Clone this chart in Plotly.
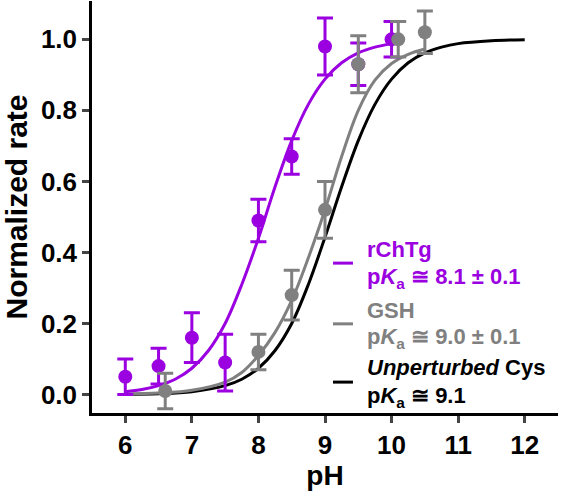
import plotly.graph_objects as go

# Data points
ph_rchtg = [6.0, 6.5, 7.0, 7.5, 8.0, 8.5, 9.0, 9.5, 10.0]
rate_rchtg = [0.05, 0.08, 0.16, 0.09, 0.49, 0.67, 0.98, 0.93, 1.00]
err_rchtg = [0.05, 0.05, 0.07, 0.08, 0.06, 0.05, 0.08, 0.06, 0.05]

ph_gsh = [6.6, 8.0, 8.5, 9.0, 9.5, 10.1, 10.5]
rate_gsh = [0.01, 0.12, 0.28, 0.52, 0.93, 1.00, 1.02]
err_gsh = [0.05, 0.05, 0.07, 0.08, 0.08, 0.05, 0.06]

# Fitted curves
curve_ph_rchtg = [6.0, 6.25, 6.5, 6.75, 7.0, 7.25, 7.5, 7.75, 8.0, 8.25, 8.5, 8.75, 9.0, 9.25, 9.5, 9.75, 10.0]
curve_rchtg = [0.008, 0.014, 0.025, 0.043, 0.074, 0.124, 0.20, 0.31, 0.44, 0.585, 0.715, 0.817, 0.888, 0.934, 0.962, 0.978, 0.988]

curve_ph_gsh = [6.0, 6.5, 7.0, 7.5, 7.75, 8.0, 8.25, 8.5, 8.75, 9.0, 9.25, 9.5, 9.75, 10.0, 10.25, 10.5]
curve_gsh = [0.001, 0.004, 0.012, 0.035, 0.062, 0.11, 0.175, 0.265, 0.385, 0.52, 0.67, 0.80, 0.885, 0.932, 0.958, 0.973]

curve_ph_cys = [6.0, 6.5, 7.0, 7.5, 7.75, 8.0, 8.25, 8.5, 8.75, 9.0, 9.25, 9.5, 9.75, 10.0, 10.25, 10.5, 10.75, 11.0, 11.5, 12.0]
curve_cys = [0.001, 0.0025, 0.008, 0.025, 0.043, 0.074, 0.124, 0.20, 0.31, 0.443, 0.585, 0.715, 0.817, 0.888, 0.934, 0.962, 0.978, 0.988, 0.996, 0.999]

x_ticks = [6, 7, 8, 9, 10, 11, 12]
y_ticks = [0.0, 0.2, 0.4, 0.6, 0.8, 1.0]
y_tick_labels = ["0.0", "0.2", "0.4", "0.6", "0.8", "1.0"]

PURPLE = "#9A00E0"
GRAY = "#808080"
BLACK = "#000000"
FONT = "Arial, Liberation Sans, sans-serif"

fig = go.Figure()

fig.add_trace(go.Scatter(x=curve_ph_cys, y=curve_cys, mode="lines", line=dict(color=BLACK, width=3, shape="spline"), showlegend=False, hoverinfo="skip"))
fig.add_trace(go.Scatter(x=curve_ph_gsh, y=curve_gsh, mode="lines", line=dict(color=GRAY, width=3, shape="spline"), showlegend=False, hoverinfo="skip"))
fig.add_trace(go.Scatter(x=curve_ph_rchtg, y=curve_rchtg, mode="lines", line=dict(color=PURPLE, width=3, shape="spline"), showlegend=False, hoverinfo="skip"))

fig.add_trace(go.Scatter(
    x=ph_rchtg, y=rate_rchtg, mode="markers",
    marker=dict(color=PURPLE, size=14),
    error_y=dict(type="data", array=err_rchtg, color=PURPLE, thickness=3, width=8),
    showlegend=False))
fig.add_trace(go.Scatter(
    x=ph_gsh, y=rate_gsh, mode="markers",
    marker=dict(color=GRAY, size=14),
    error_y=dict(type="data", array=err_gsh, color=GRAY, thickness=3, width=8),
    showlegend=False))

# Legend (drawn manually)
legend_items = [
    ("<b>rChTg</b>", "<b>p<i>K</i><sub>a</sub> \u2245 8.1 \u00b1 0.1</b>", PURPLE, 0.37, 0.407, 0.328),
    ("<b>GSH</b>", "<b>p<i>K</i><sub>a</sub> \u2245 9.0 \u00b1 0.1</b>", GRAY, 0.199, 0.238, 0.159),
    ("<b><i>Unperturbed</i> Cys</b>", "<b>p<i>K</i><sub>a</sub> \u2245 9.1</b>", BLACK, 0.035, 0.075, -0.007),
]
for t1, t2, col, yl, y1, y2 in legend_items:
    fig.add_shape(type="line", xref="x", yref="y", x0=9.12, x1=9.42, y0=yl, y1=yl,
                  line=dict(color=col, width=3))
    fig.add_annotation(x=9.6, y=y1, xref="x", yref="y", text=t1, showarrow=False,
                       xanchor="left", yanchor="middle", font=dict(size=22, color=col, family=FONT))
    fig.add_annotation(x=9.6, y=y2, xref="x", yref="y", text=t2, showarrow=False,
                       xanchor="left", yanchor="middle", font=dict(size=22, color=col, family=FONT))

fig.update_layout(
    width=563, height=491,
    margin=dict(l=92, r=5, t=1, b=78),
    plot_bgcolor="white", paper_bgcolor="white",
    font=dict(family=FONT, color="black"),
    xaxis=dict(
        range=[5.5, 12.5], tickvals=x_ticks, ticktext=["<b>%d</b>" % v for v in x_ticks],
        ticks="outside", ticklen=7, tickwidth=2.5, automargin=False,
        showline=True, linecolor="black", linewidth=2.5, showgrid=False, zeroline=False,
        tickfont=dict(size=26, family=FONT, color="black"),
        title=dict(text="<b>pH</b>", font=dict(size=28, family=FONT, color="black"), standoff=6),
    ),
    yaxis=dict(
        range=[-0.052, 1.108], tickvals=y_ticks, ticktext=["<b>%s</b>" % t for t in y_tick_labels],
        ticks="outside", ticklen=7, tickwidth=2.5, automargin=False,
        showline=True, linecolor="black", linewidth=2.5, showgrid=False, zeroline=False,
        tickfont=dict(size=26, family=FONT, color="black"),
        title=dict(text="<b>Normalized rate</b>", font=dict(size=30, family=FONT, color="black"), standoff=6),
    ),
)

fig.write_html("out.html", config={"displayModeBar": False},
               post_script="document.body.style.margin='0';")
